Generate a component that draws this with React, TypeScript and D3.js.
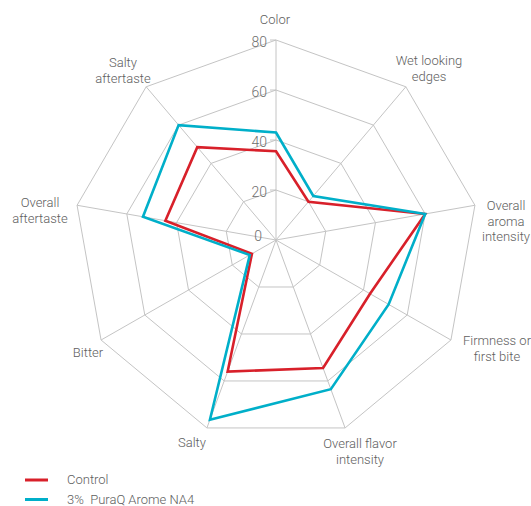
import React, { useEffect, useRef } from 'react';
import * as d3 from 'd3';

const CATEGORIES = [
  ['Color'],
  ['Wet looking', 'edges'],
  ['Overall', 'aroma', 'intensity'],
  ['Firmness or', 'first bite'],
  ['Overall flavor', 'intensity'],
  ['Salty'],
  ['Bitter'],
  ['Overall', 'aftertaste'],
  ['Salty', 'aftertaste'],
];
const CONTROL = [35.5, 20, 60, 43, 54.5, 56, 11, 44.5, 48.5];
const PURAQ = [43, 23, 60, 51.5, 63.5, 76.5, 12, 53.5, 60];
const TICKS = [0, 20, 40, 60, 80];
const SERIES_NAMES = ['Control', '3%  PuraQ Arome NA4'];
const SERIES_COLORS = ['#d8202a', '#00afc9'];

const WIDTH = 531;
const HEIGHT = 506;
const CX = 276;
const CY = 240;
const RX = 202;
const RY = 200;
const FONT = 'Roboto, "Open Sans", sans-serif';

// where each category label sits
const LABEL_POS = [
  { x: 275, y: 24 },
  { x: 429, y: 65 },
  { x: 506, y: 210 },
  { x: 497, y: 345 },
  { x: 360, y: 448 },
  { x: 192, y: 447 },
  { x: 88, y: 357 },
  { x: 40, y: 207 },
  { x: 123, y: 67 },
];

const App = () => {
  const svgRef = useRef<SVGSVGElement | null>(null);

  useEffect(() => {
    const svg = d3.select(svgRef.current);
    svg.selectAll('*').remove();

    const n = CATEGORIES.length;
    const angle = d3.scaleLinear().domain([0, n]).range([0, 2 * Math.PI]);
    const rScale = d3.scaleLinear().domain([0, 80]).range([0, 1]);
    const pt = (i: number, v: number): [number, number] => {
      const a = angle(i);
      const r = rScale(v);
      return [CX + Math.sin(a) * r * RX, CY - Math.cos(a) * r * RY];
    };

    const g = svg.append('g');

    // rings
    const ringLine = d3.line().curve(d3.curveLinearClosed);
    g.selectAll('.ring')
      .data(TICKS.filter((t) => t > 0))
      .enter()
      .append('path')
      .attr('class', 'ring')
      .attr('d', (t) => ringLine(d3.range(n).map((i) => pt(i, t))))
      .attr('fill', 'none')
      .attr('stroke', '#c4c4c4')
      .attr('stroke-width', 1);

    // spokes
    g.selectAll('.spoke')
      .data(d3.range(n))
      .enter()
      .append('line')
      .attr('class', 'spoke')
      .attr('x1', CX)
      .attr('y1', CY)
      .attr('x2', (i) => pt(i, 80)[0])
      .attr('y2', (i) => pt(i, 80)[1])
      .attr('stroke', '#c4c4c4')
      .attr('stroke-width', 1);

    // tick marks + labels on the Color axis
    g.selectAll('.tick')
      .data(TICKS.filter((t) => t > 0))
      .enter()
      .append('line')
      .attr('x1', CX - 6)
      .attr('x2', CX)
      .attr('y1', (t) => pt(0, t)[1])
      .attr('y2', (t) => pt(0, t)[1])
      .attr('stroke', '#c4c4c4');

    g.selectAll('.tickLabel')
      .data(TICKS)
      .enter()
      .append('text')
      .attr('x', (t) => (t === 0 ? CX - 14 : CX - 9))
      .attr('y', (t) => pt(0, t)[1] + (t === 0 ? -4 : 2))
      .attr('dy', '0.35em')
      .attr('text-anchor', 'end')
      .attr('font-family', FONT)
      .attr('font-weight', 300)
      .attr('font-size', 14)
      .attr('fill', '#6e6e6e')
      .text((t) => t);

    // series
    const seriesLine = d3.line().curve(d3.curveLinearClosed);
    [CONTROL, PURAQ].forEach((vals, s) => {
      g.append('path')
        .attr('d', seriesLine(vals.map((v, i) => pt(i, v))))
        .attr('fill', 'none')
        .attr('stroke', SERIES_COLORS[s])
        .attr('stroke-width', 2.6)
        .attr('stroke-linejoin', 'miter');
    });

    // category labels
    CATEGORIES.forEach((lines, i) => {
      const t = g
        .append('text')
        .attr('text-anchor', 'middle')
        .attr('font-family', FONT)
        .attr('font-weight', 300)
        .attr('font-size', 13)
        .attr('fill', '#5e5e5e');
      lines.forEach((l, j) => {
        t.append('tspan')
          .attr('x', LABEL_POS[i].x)
          .attr('y', LABEL_POS[i].y + j * 15.7)
          .text(l);
      });
    });

    // legend
    const legend = g
      .selectAll('.legend')
      .data(SERIES_NAMES)
      .enter()
      .append('g')
      .attr('transform', (d, i) => `translate(25, ${480 + i * 19.5})`);
    legend
      .append('line')
      .attr('x1', 0)
      .attr('x2', 23)
      .attr('stroke', (d, i) => SERIES_COLORS[i])
      .attr('stroke-width', 3);
    legend
      .append('text')
      .attr('x', 42)
      .attr('y', 4)
      .attr('font-family', FONT)
      .attr('font-weight', 300)
      .attr('font-size', 13)
      .attr('fill', '#5e5e5e')
      .style('white-space', 'pre')
      .text((d) => d);
  }, []);

  return (
    <svg
      ref={svgRef}
      width={WIDTH}
      height={HEIGHT}
      style={{ position: 'absolute', left: 0, top: 0, background: '#fff' }}
    />
  );
};

export default App;
